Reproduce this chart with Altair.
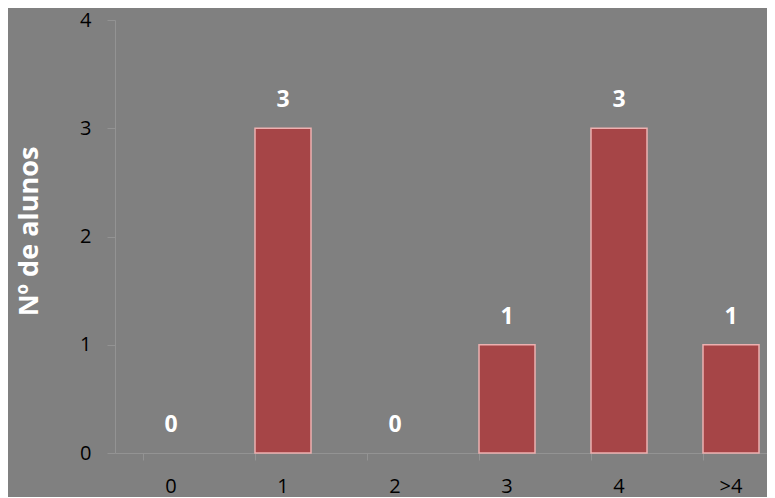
import altair as alt
import pandas as pd

categories = ["0", "1", "2", "3", "4", ">4"]
counts = [0, 3, 0, 1, 3, 1]

df = pd.DataFrame({"cat": categories, "n": counts})

FONT = "Open Sans"

x = alt.X("cat:N", sort=categories, title=None,
          scale=alt.Scale(paddingInner=0.5, paddingOuter=0.25, range=[0, 672]),
          axis=alt.Axis(labelAngle=0, labelFontSize=20, labelFont=FONT, labelColor="black",
                        labelPadding=16, tickColor="#939393", domainColor="#939393",
                        tickSize=7, bandPosition=0, grid=False))
y = alt.Y("n:Q", title="Nº de alunos",
          scale=alt.Scale(domain=[0, 4]),
          axis=alt.Axis(values=[0, 1, 2, 3, 4], format="d", labelFontSize=20, labelFont=FONT,
                        labelColor="black", labelPadding=16, tickColor="#939393",
                        domainColor="#939393", tickSize=8, grid=False,
                        titleFont=FONT, titleFontSize=27, titleFontWeight="bold",
                        titleColor="white", titleAngle=-90, titleX=-86, titleY=211,
                        titleAlign="center", titleBaseline="middle"))

bars = alt.Chart(df).transform_filter("datum.n > 0").mark_bar(
    color="#A64547", stroke="#EDB0B0", strokeWidth=1.5).encode(x=x, y=y)
labels = alt.Chart(df).mark_text(baseline="middle", dy=-28, fontSize=23, fontWeight="bold",
                                 font=FONT, color="white").encode(x=x, y="n:Q", text="n:Q")

chart = (bars + labels).properties(
    width=652, height=433,
    background="#808080",
    autosize=alt.AutoSizeParams(type="none"),
    padding={"left": 107, "top": 12, "right": 0, "bottom": 44},
).configure_view(stroke=None)

chart.save("out.html", embed_options={"renderer": "svg", "actions": False})
